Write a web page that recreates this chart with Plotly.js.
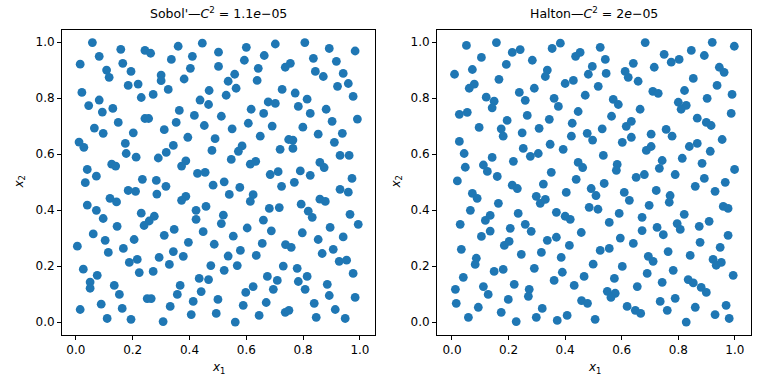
<!DOCTYPE html>
<html>
<head>
<meta charset="utf-8">
<script src="https://cdn.plot.ly/plotly-3.0.1.min.js"></script>
<style>html,body{margin:0;padding:0;background:#fff;}#plot{width:768px;height:384px;}</style>
</head>
<body>
<div id="plot"></div>
<script>
// Sobol' sample
var sobolX = [
0.058,0.158,0.243,0.263,0.360,0.445,0.015,0.082,0.165,0.108,0.117,0.194,0.336,0.410,0.403,0.300,0.300,0.381,0.021,0.184,
0.219,0.230,0.272,0.325,0.469,0.082,0.045,0.093,0.130,0.437,0.467,0.364,0.417,0.243,0.256,0.149,0.353,0.452,0.065,0.311,
0.502,0.502,0.600,0.702,0.806,0.892,0.983,0.593,0.663,0.642,0.559,0.536,0.564,0.529,0.638,0.737,0.755,0.836,0.917,0.843,
0.871,0.941,0.959,0.921,0.976,0.726,0.772,0.814,0.783,0.825,0.881,0.902,0.991,0.677,0.702,0.617,0.661,0.512,0.607,0.691,
0.799,0.550,
0.096,0.202,0.394,0.490,0.011,0.028,0.174,0.177,0.212,0.343,0.318,0.290,0.479,0.387,0.372,0.126,0.140,0.040,0.072,0.033,
0.428,0.455,0.483,0.234,0.283,0.317,0.285,0.184,0.210,0.120,0.143,0.387,0.372,0.040,0.072,0.096,0.230,0.276,0.258,0.240,
0.423,0.458,0.423,0.145,0.346,0.448,
0.649,0.853,0.938,0.749,0.764,0.719,0.764,0.585,0.572,0.547,0.614,0.633,0.910,0.930,0.962,0.859,0.874,0.684,0.712,0.790,
0.825,0.522,0.577,0.540,0.624,0.614,0.724,0.769,0.972,0.930,0.959,0.859,0.878,0.793,0.681,0.716,0.818,0.832,0.519,0.512,
0.660,0.603,0.688,0.895,0.965,0.994,0.797,
0.061,0.103,0.205,0.311,0.005,0.114,0.167,0.396,0.487,0.343,0.293,0.378,0.329,0.188,0.216,0.223,0.272,0.475,0.026,0.075,
0.050,0.050,0.135,0.153,0.434,0.467,0.367,0.357,0.441,0.413,0.251,0.265,0.089,0.015,0.163,0.332,0.406,0.494,0.500,0.110,
0.194,0.307,
0.554,0.941,0.853,0.656,0.738,0.758,0.579,0.536,0.635,0.867,0.906,0.927,0.953,0.568,0.522,0.730,0.779,0.976,0.674,0.709,
0.814,0.783,0.624,0.598,0.695,0.807,0.885,0.892,0.983,0.589,0.670,0.839,0.737,0.750,0.645,0.913,0.561,0.846,0.948
];
var sobolY = [
0.998,0.974,0.970,0.960,0.985,0.996,0.921,0.949,0.924,0.900,0.874,0.895,0.938,0.949,0.906,0.882,0.862,0.868,0.820,0.845,
0.850,0.802,0.813,0.831,0.827,0.793,0.773,0.750,0.763,0.793,0.777,0.756,0.738,0.727,0.727,0.713,0.713,0.702,0.693,0.687,
0.964,0.913,0.981,0.993,0.998,0.977,0.968,0.935,0.952,0.906,0.885,0.860,0.835,0.810,0.863,0.910,0.924,0.942,0.931,0.895,
0.877,0.888,0.852,0.842,0.806,0.831,0.818,0.796,0.770,0.745,0.760,0.717,0.725,0.786,0.781,0.760,0.745,0.735,0.710,0.700,
0.696,0.690,
0.674,0.676,0.660,0.655,0.643,0.624,0.638,0.602,0.589,0.631,0.606,0.586,0.613,0.576,0.557,0.564,0.557,0.545,0.521,0.498,
0.531,0.535,0.489,0.510,0.506,0.485,0.457,0.470,0.467,0.442,0.429,0.449,0.435,0.418,0.399,0.370,0.389,0.378,0.361,0.345,
0.399,0.413,0.367,0.342,0.331,0.323,
0.664,0.671,0.674,0.652,0.650,0.617,0.620,0.629,0.610,0.581,0.564,0.574,0.642,0.595,0.595,0.570,0.552,0.527,0.537,0.540,
0.524,0.501,0.481,0.456,0.455,0.431,0.485,0.499,0.513,0.474,0.464,0.439,0.431,0.421,0.406,0.409,0.396,0.374,0.382,0.352,
0.364,0.336,0.326,0.338,0.385,0.349,0.319,
0.315,0.292,0.295,0.310,0.271,0.249,0.263,0.285,0.278,0.252,0.231,0.235,0.206,0.213,0.224,0.177,0.181,0.202,0.189,0.167,
0.143,0.121,0.131,0.099,0.156,0.152,0.131,0.099,0.109,0.074,0.084,0.084,0.064,0.045,0.049,0.056,0.027,0.031,0.081,0.013,
0.010,0.002,
0.307,0.304,0.295,0.281,0.277,0.267,0.256,0.236,0.238,0.245,0.260,0.217,0.221,0.202,0.185,0.200,0.192,0.174,0.163,0.149,
0.163,0.145,0.127,0.106,0.117,0.117,0.135,0.095,0.088,0.060,0.070,0.067,0.035,0.042,0.024,0.045,0.000,0.017,0.013
];
// Halton sample
var haltonX = [
0.051,0.157,0.104,0.213,0.241,0.284,0.354,0.383,0.437,0.453,0.496,0.009,0.072,0.192,0.166,0.079,0.061,0.337,0.330,0.400,
0.429,0.482,0.291,0.238,0.259,0.121,0.149,0.142,0.361,0.376,0.471,0.446,0.026,0.054,0.266,0.195,0.344,0.096,0.174,0.308,
0.425,
0.524,0.683,0.542,0.545,0.517,0.641,0.612,0.623,0.658,0.715,0.750,0.775,0.803,0.846,0.892,0.920,0.998,0.853,0.945,0.962,
0.937,0.990,0.822,0.902,0.710,0.729,0.570,0.588,0.665,0.800,0.828,0.810,0.987,0.564,0.867,0.899,0.916,0.616,0.634,0.531,
0.757,
0.181,0.248,0.422,0.478,0.497,0.026,0.043,0.047,0.019,0.142,0.111,0.125,0.160,0.252,0.277,0.305,0.347,0.393,0.217,0.351,
0.446,0.462,0.439,0.213,0.231,0.323,0.404,0.492,0.072,0.089,0.164,0.298,0.312,0.330,0.065,0.135,0.118,0.234,0.369,0.400,
0.418,0.485,0.029,0.259,0.206,0.280,0.135,0.457,
0.704,0.778,0.602,0.634,0.687,0.704,0.839,0.867,0.955,0.913,0.535,0.743,0.733,0.814,0.884,0.584,0.581,0.651,0.680,0.789,
0.999,0.892,0.966,0.538,0.860,0.930,0.509,0.609,0.627,0.722,0.771,0.768,0.697,0.516,0.591,0.959,0.976,0.821,0.672,0.796,
0.807,0.556,0.672,0.725,0.874,0.909,
0.104,0.337,0.369,0.415,0.185,0.202,0.033,0.245,0.316,0.386,0.086,0.082,0.499,0.149,0.181,0.291,0.390,0.467,0.040,0.361,
0.432,0.220,0.111,0.128,0.012,0.273,0.270,0.199,0.015,0.093,0.174,0.319,0.458,0.479,0.058,0.227,0.298,0.372,0.407,
0.595,0.747,0.976,0.524,0.556,0.641,0.877,0.948,0.764,0.842,0.694,0.711,0.923,0.934,0.952,0.602,0.782,0.690,0.994,0.574,
0.743,0.835,0.853,0.655,0.881,0.899,0.549,0.577,0.562,0.789,0.736,0.619,0.648,0.667,0.761,0.860,0.969,0.930,0.980,0.828,
0.506
];
var haltonY = [
0.988,0.998,0.945,0.963,0.973,0.935,0.977,0.996,0.949,0.963,0.913,0.885,0.902,0.920,0.867,0.850,0.835,0.900,0.877,0.852,
0.863,0.885,0.835,0.820,0.792,0.803,0.789,0.765,0.799,0.770,0.810,0.752,0.742,0.749,0.738,0.720,0.724,0.695,0.690,0.692,
0.710,
0.981,0.998,0.938,0.888,0.842,0.924,0.895,0.874,0.860,0.910,0.956,0.928,0.938,0.970,0.952,0.999,0.985,0.870,0.910,0.892,
0.845,0.813,0.827,0.799,0.824,0.817,0.795,0.777,0.760,0.785,0.774,0.760,0.745,0.735,0.728,0.713,0.702,0.699,0.717,0.690,
0.688,
0.664,0.676,0.664,0.674,0.650,0.645,0.602,0.553,0.504,0.588,0.561,0.538,0.520,0.620,0.592,0.602,0.635,0.617,0.574,0.535,
0.570,0.552,0.510,0.489,0.477,0.493,0.463,0.477,0.460,0.442,0.424,0.449,0.424,0.438,0.399,0.381,0.363,0.388,0.392,0.378,
0.367,0.410,0.349,0.349,0.335,0.324,0.325,0.320,
0.671,0.664,0.642,0.660,0.613,0.627,0.627,0.638,0.652,0.610,0.595,0.577,0.549,0.585,0.567,0.563,0.542,0.517,0.527,0.527,
0.545,0.513,0.499,0.495,0.485,0.467,0.452,0.463,0.435,0.470,0.452,0.428,0.417,0.403,0.388,0.413,0.406,0.385,0.374,0.352,
0.331,0.356,0.327,0.338,0.342,0.360,
0.306,0.292,0.303,0.274,0.274,0.288,0.260,0.242,0.249,0.231,0.228,0.206,0.207,0.181,0.188,0.192,0.178,0.163,0.160,0.149,
0.131,0.135,0.127,0.099,0.117,0.117,0.092,0.081,0.067,0.053,0.035,0.049,0.077,0.067,0.017,0.002,0.017,0.006,0.024,
0.300,0.312,0.310,0.256,0.263,0.281,0.285,0.267,0.252,0.238,0.235,0.217,0.224,0.203,0.213,0.199,0.185,0.174,0.167,0.156,
0.142,0.152,0.140,0.127,0.124,0.106,0.110,0.103,0.088,0.085,0.074,0.056,0.042,0.031,0.042,0.053,0.060,0.027,0.013,0.000,
0.010
];
var tickVals = [0, 0.2, 0.4, 0.6, 0.8, 1.0];
var tickText = ["0.0", "0.2", "0.4", "0.6", "0.8", "1.0"];
var titles = ["Sobol'—<i>C</i><sup>2</sup> = 1.1<i>e</i>−05", "Halton—<i>C</i><sup>2</sup> = 2<i>e</i>−05"];

var FONT = "DejaVu Sans, sans-serif";
var blue = "#1f77b4";
var mk = {color: blue, size: 8.8, line: {width: 0}};

var traces = [
  {x: sobolX, y: sobolY, type: "scatter", mode: "markers", marker: mk, xaxis: "x", yaxis: "y", hoverinfo: "skip"},
  {x: haltonX, y: haltonY, type: "scatter", mode: "markers", marker: mk, xaxis: "x2", yaxis: "y2", hoverinfo: "skip"}
];

function ax(domain, range, anchor) {
  return {
    domain: domain, range: range, anchor: anchor,
    tickmode: "array", tickvals: tickVals, ticktext: tickText,
    ticks: "outside", ticklen: 4, tickwidth: 1, tickcolor: "#000",
    showline: true, mirror: true, linecolor: "#000", linewidth: 1,
    showgrid: false, zeroline: false,
    tickfont: {family: FONT, size: 12, color: "#000"}
  };
}

var yd = [1 - 335/384, 1 - 30/384];
var layout = {
  width: 768, height: 384,
  margin: {l: 0, r: 0, t: 0, b: 0},
  paper_bgcolor: "#fff", plot_bgcolor: "#fff",
  showlegend: false,
  xaxis: ax([62/768, 375/768], [-0.049, 1.053], "y"),
  yaxis: ax(yd, [-0.046, 1.043], "x"),
  xaxis2: ax([437/768, 751/768], [-0.053, 1.057], "y2"),
  yaxis2: ax(yd, [-0.046, 1.043], "x2"),
  annotations: [
    {text: titles[0], x: 218.5/768, y: 1 - 13/384, xref: "paper", yref: "paper", showarrow: false, xanchor: "center", yanchor: "middle", font: {family: FONT, size: 12.5, color: "#000"}},
    {text: titles[1], x: 594/768, y: 1 - 13/384, xref: "paper", yref: "paper", showarrow: false, xanchor: "center", yanchor: "middle", font: {family: FONT, size: 12.5, color: "#000"}},
    {text: "<i>x</i><sub>1</sub>", x: 218.5/768, y: 1 - 368/384, xref: "paper", yref: "paper", showarrow: false, xanchor: "center", yanchor: "middle", font: {family: FONT, size: 12, color: "#000"}},
    {text: "<i>x</i><sub>1</sub>", x: 594/768, y: 1 - 368/384, xref: "paper", yref: "paper", showarrow: false, xanchor: "center", yanchor: "middle", font: {family: FONT, size: 12, color: "#000"}},
    {text: "<i>x</i><sub>2</sub>", x: 19/768, y: 1 - 182.5/384, xref: "paper", yref: "paper", showarrow: false, xanchor: "center", yanchor: "middle", textangle: -90, font: {family: FONT, size: 12, color: "#000"}},
    {text: "<i>x</i><sub>2</sub>", x: 396/768, y: 1 - 182.5/384, xref: "paper", yref: "paper", showarrow: false, xanchor: "center", yanchor: "middle", textangle: -90, font: {family: FONT, size: 12, color: "#000"}}
  ]
};

Plotly.newPlot("plot", traces, layout, {staticPlot: true, displayModeBar: false});
</script>
</body>
</html>
